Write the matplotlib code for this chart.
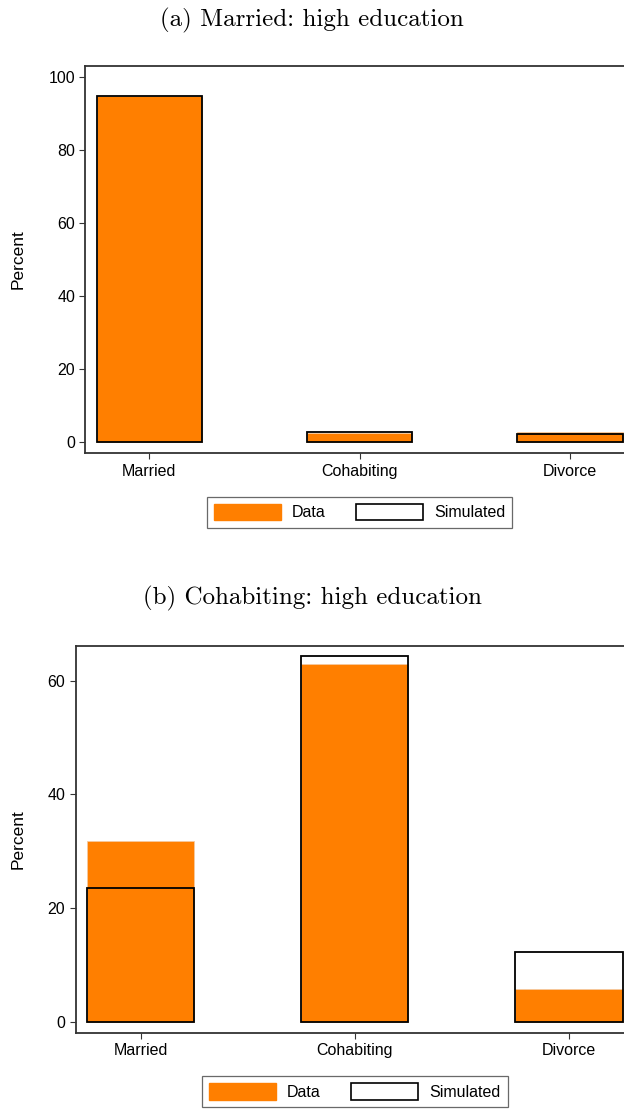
import numpy as np
import matplotlib.pyplot as plt
from matplotlib.patches import Patch

categories = ['Married', 'Cohabiting', 'Divorce']

# panel (a): married, high education
data_a = [95.0, 2.6, 2.9]
sim_a = [95.0, 2.7, 2.4]

# panel (b): cohabiting, high education
data_b = [31.8, 62.9, 5.7]
sim_b = [23.5, 64.3, 12.3]

titles = ['(a) Married: high education', '(b) Cohabiting: high education']
yticks_a = [0, 20, 40, 60, 80, 100]
yticks_b = [0, 20, 40, 60]

orange = '#ff7f00'
plt.rcParams['font.family'] = ['Liberation Sans', 'DejaVu Sans']

fig = plt.figure(figsize=(6.24, 11.09), dpi=100)
ax_a = fig.add_axes([0.137, 0.5913, 0.879, 0.3495])
ax_b = fig.add_axes([0.1212, 0.0688, 0.895, 0.349])


def draw_panel(ax, data, sim, yticks, ylim, title, title_y, label_x):
    x = np.arange(len(categories))
    ax.bar(x, data, width=0.5, color=orange, edgecolor='#f5c9a0', linewidth=0.6, zorder=2)
    ax.bar(x, sim, width=0.5, facecolor='none', edgecolor='black', linewidth=1.3, zorder=3)
    ax.set_xlim(-0.304, 2.304)
    ax.set_ylim(*ylim)
    ax.set_xticks(x)
    ax.set_xticklabels(categories, fontsize=11.5)
    ax.set_yticks(yticks)
    ax.set_yticklabels([str(t) for t in yticks], fontsize=11.5)
    ax.tick_params(direction='out', length=4.5, width=0.8, color='#333333', pad=3)
    for s in ax.spines.values():
        s.set_linewidth(1.3)
        s.set_color('#333333')
    ax.set_ylabel('Percent', fontsize=12.5)
    ax.yaxis.set_label_coords(label_x, 0.5)
    handles = [Patch(facecolor=orange, edgecolor=orange, label='Data'),
               Patch(facecolor='white', edgecolor='black', linewidth=1.2, label='Simulated')]
    leg = ax.legend(handles=handles, loc='upper center', bbox_to_anchor=(0.5, -0.112), ncol=2,
                    frameon=True, fancybox=False, edgecolor='#444444', fontsize=11.5,
                    handlelength=4.2, handleheight=1.2, handletextpad=0.67,
                    columnspacing=1.9, borderpad=0.45, borderaxespad=0)
    leg.get_frame().set_linewidth(0.9)
    fig.text(0.5, title_y, title, ha='center', va='center', fontsize=18, family='cmr10')


draw_panel(ax_a, data_a, sim_a, yticks_a, (-3.0, 103.2), titles[0], 1 - 20 / 1109, -0.1085)
draw_panel(ax_b, data_b, sim_b, yticks_b, (-1.94, 66.2), titles[1], 1 - 598 / 1109, -0.0888)

fig.savefig('out.png', dpi=100)
